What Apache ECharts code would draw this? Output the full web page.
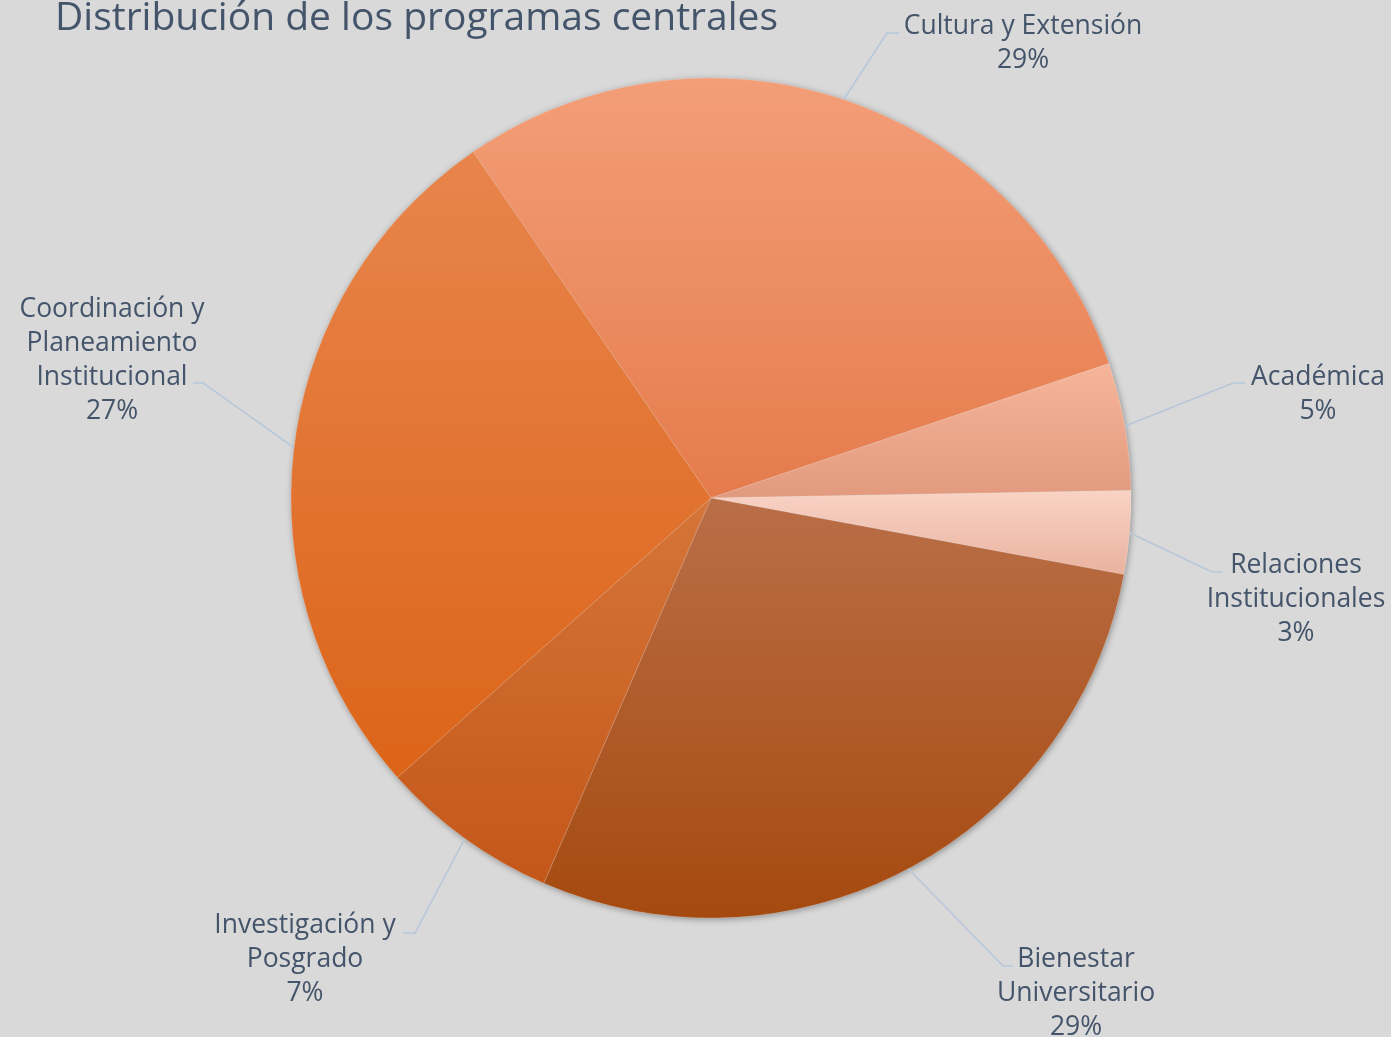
<!DOCTYPE html>
<html>
<head>
<meta charset="utf-8">
<script src="https://cdn.jsdelivr.net/npm/echarts@6/dist/echarts.min.js"></script>
<style>
html,body{margin:0;padding:0;background:#D9D9D9;}
#chart{width:1391px;height:1037px;}
</style>
</head>
<body>
<div id="chart"></div>
<script>
// ---- data ----
const titleText = 'Distribución de los programas centrales';
const categories = [
  'Cultura y Extensión',
  'Académica',
  'Relaciones\nInstitucionales',
  'Bienestar\nUniversitario',
  'Investigación y\nPosgrado',
  'Coordinación y\nPlaneamiento\nInstitucional'
];
const values = [29.4, 4.9, 3.2, 28.6, 6.9, 27.0];

// ---- styling (colors: top -> bottom gradient per slice) ----
const sliceColors = [
  ['#F39E78', '#E57B4C'],
  ['#F6B59A', '#E29A7E'],
  ['#F9D3C5', '#EAB29F'],
  ['#BA6E47', '#A54A0F'],
  ['#D67539', '#C35719'],
  ['#E8854C', '#DC6418']
];
// label placement (center of text block) and leader line bend/end points
const labelLayoutCfg = [
  {x: 1023, y: 43,  bend: [887, 33],  end: [899, 33]},
  {x: 1318, y: 394, bend: [1233, 383], end: [1245, 383]},
  {x: 1296, y: 599, bend: [1212, 572], end: [1223, 572]},
  {x: 1076, y: 993, bend: [1003, 966], end: [1013, 966]},
  {x: 305,  y: 959, bend: [415, 933],  end: [403, 933]},
  {x: 112,  y: 360, bend: [203, 383],  end: [193, 383]}
];

const chart = echarts.init(document.getElementById('chart'), null, {renderer: 'canvas'});
const textColor = '#44546A';
const fontFam = '"Open Sans", Lato, sans-serif';

const seriesData = categories.map((c, i) => ({
  name: c,
  value: values[i],
  itemStyle: {
    color: new echarts.graphic.LinearGradient(0, 0, 0, 1, [
      {offset: 0, color: sliceColors[i][0]},
      {offset: 1, color: sliceColors[i][1]}
    ])
  }
}));
const shadowData = categories.map((c, i) => ({name: c, value: values[i]}));

chart.setOption({
  backgroundColor: '#D9D9D9',
  animation: false,
  title: {
    text: titleText,
    left: 50,
    top: -6,
    textStyle: {color: textColor, fontSize: 39, fontWeight: 'normal', fontFamily: fontFam}
  },
  series: [{
    type: 'pie',
    z: 1,
    silent: true,
    center: [711, 498],
    radius: 420,
    startAngle: 124.5,
    data: shadowData,
    itemStyle: {
      color: '#C8C8C8',
      shadowBlur: 6,
      shadowColor: 'rgba(0,0,0,0.35)',
      shadowOffsetX: 1,
      shadowOffsetY: 1.5
    },
    label: {show: false},
    labelLine: {show: false}
  }, {
    type: 'pie',
    z: 2,
    center: [711, 498],
    radius: 420,
    startAngle: 124.5,
    clockwise: true,
    data: seriesData,
    itemStyle: {
      borderColor: 'rgba(255,255,255,0.3)',
      borderWidth: 0.5
    },
    label: {
      show: true,
      position: 'outside',
      color: textColor,
      fontSize: 26.5,
      lineHeight: 34,
      fontFamily: fontFam,
      align: 'center',
      formatter: p => p.name + '\n' + Math.round(p.percent) + '%'
    },
    labelLine: {
      show: true,
      length: 20,
      length2: 10,
      lineStyle: {color: '#B7C7D9', width: 1.5}
    },
    labelLayout: function (params) {
      const cfg = labelLayoutCfg[params.dataIndex];
      const pts = params.labelLinePoints;
      const start = pts ? pts[0] : cfg.bend;
      return {
        x: cfg.x,
        y: cfg.y,
        align: 'center',
        verticalAlign: 'middle',
        labelLinePoints: [start, cfg.bend, cfg.end]
      };
    }
  }]
});
</script>
</body>
</html>
